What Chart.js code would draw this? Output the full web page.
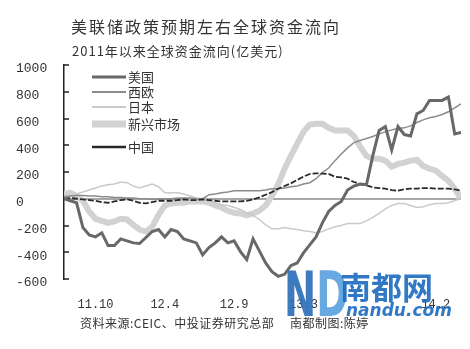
<!DOCTYPE html>
<html>
<head>
<meta charset="utf-8">
<script src="https://cdn.jsdelivr.net/npm/chart.js@4.4.1/dist/chart.umd.min.js"></script>
<style>
  body { margin: 0; background: #fff; }
  #wrap { position: relative; width: 470px; height: 349px; overflow: hidden; }
  #c { position: absolute; left: 0; top: 0; }
  .txt { position: absolute; color: #333; font-family: "Noto Sans CJK SC", sans-serif; white-space: nowrap; line-height: 1; }
</style>
</head>
<body>
<div id="wrap">
  <canvas id="c" width="470" height="349"></canvas>
  <div class="txt" style="left:71px;top:18px;font-size:16px;letter-spacing:2px;">美联储政策预期左右全球资金流向</div>
  <div class="txt" style="left:72px;top:44px;font-size:13px;letter-spacing:1px;">2011年以来全球资金流向(亿美元)</div>
  <div class="txt" style="left:80px;top:317px;font-size:12px;letter-spacing:0.5px;">资料来源:CEIC、中投证券研究总部</div>
  <div class="txt" style="left:290px;top:317px;font-size:12px;letter-spacing:0.5px;">南都制图:陈婷</div>
</div>
<script>
// half-month steps from Aug 2011 to early 2014
const xTickPos = [5, 16, 27, 38, 59];
const xTickLabels = ['11.10', '12.4', '12.9', '13.3', '14.2'];

const seriesNames = ['美国', '西欧', '日本', '新兴市场', '中国'];

const usa = [0, -15, -30, -215, -270, -285, -255, -350, -350, -300,
  -315, -330, -335, -290, -245, -230, -285, -230, -245, -300,
  -315, -330, -420, -365, -330, -285, -330, -315, -395, -455,
  -300, -390, -480, -545, -580, -565, -500, -480, -405, -345,
  -285, -180, -95, -50, -20, 65, 95, 110, 105, 320,
  510, 540, 365, 540, 480, 470, 635, 660, 735, 735,
  735, 760, 485, 495];

const westEurope = [15, 20, 25, 25, 20, 20, 15, 15, 10, 10,
  5, 5, 0, 0, -5, 0, 0, 0, 5, 5,
  5, 0, 0, 30, 35, 45, 50, 60, 60, 60,
  60, 60, 65, 75, 75, 80, 90, 95, 110, 120,
  150, 195, 230, 285, 335, 380, 420, 435, 450, 465,
  485, 500, 515, 525, 530, 545, 570, 590, 605, 615,
  630, 650, 680, 710];

const japan = [0, 15, 35, 50, 65, 80, 95, 105, 110, 125,
  120, 95, 80, 95, 110, 90, 45, 45, 45, 35,
  20, 5, 0, -15, -30, -45, -50, -65, -80, -105,
  -125, -155, -195, -225, -225, -215, -225, -230, -240, -245,
  -255, -245, -225, -210, -200, -185, -185, -185, -165, -140,
  -110, -75, -50, -35, -35, -50, -65, -60, -45, -35,
  -35, -30, -15, 5];

const emerging = [35, 45, 20, -15, -95, -150, -165, -180, -170, -150,
  -155, -195, -230, -245, -210, -120, -50, -35, -30, -30,
  -20, -20, -20, -30, -50, -65, -90, -105, -110, -125,
  -110, -90, -50, 20, 110, 225, 320, 410, 500, 555,
  560, 560, 530, 510, 510, 510, 470, 390, 320, 300,
  300, 285, 240, 260, 270, 285, 290, 245, 225, 210,
  170, 135, 75, 0];

const china = [0, 5, 0, -5, -10, -15, -25, -30, -20, -10,
  -5, -15, -30, -35, -25, -15, -15, -15, -10, -5,
  -10, -10, -5, -10, -15, -20, -20, -20, -20, -15,
  -5, 10, 30, 50, 75, 95, 115, 140, 165, 185,
  190, 188, 185, 165, 160, 150, 125, 110, 100, 85,
  80, 75, 65, 60, 70, 75, 75, 80, 80, 75,
  75, 75, 70, 60];

const toPoints = arr => arr.map((v, i) => ({ x: i, y: v }));

// legend drawn by hand, same spots as the original
const legendY = [77, 92, 107, 124, 147];
const legendPlugin = {
  id: 'handLegend',
  afterDraw(chart) {
    const ctx = chart.ctx;
    ctx.save();
    chart.data.datasets.forEach((ds, i) => {
      ctx.beginPath();
      ctx.strokeStyle = ds.borderColor;
      ctx.lineWidth = ds.legendWidth;
      ctx.moveTo(92, legendY[i]);
      ctx.lineTo(126, legendY[i]);
      ctx.stroke();
      ctx.fillStyle = '#333';
      ctx.font = '13px "Noto Sans CJK SC"';
      ctx.textBaseline = 'middle';
      ctx.fillText(ds.label, 128, legendY[i]);
    });
    ctx.restore();
  }
};

// watermark in the bottom right
const logoPlugin = {
  id: 'logo',
  afterDraw(chart) {
    const ctx = chart.ctx;
    ctx.save();
    ctx.globalAlpha = 0.92;
    ctx.font = 'bold 62px "DejaVu Sans"';
    ctx.textBaseline = 'alphabetic';
    ctx.save();
    ctx.translate(284, 316);
    ctx.scale(0.62, 1);
    ctx.fillStyle = '#2c6fb8';
    ctx.fillText('N', 0, 0);
    ctx.fillStyle = '#5aa2dd';
    ctx.fillText('D', 52, 0);
    ctx.restore();
    ctx.fillStyle = '#1f6cc0';
    ctx.font = 'bold 31px "Noto Sans CJK SC"';
    ctx.fillText('南都网', 340, 299);
    ctx.font = 'bold italic 17px "DejaVu Sans"';
    ctx.fillText('nandu.com', 346, 316);
    ctx.restore();
  }
};

const monoFont = '"Liberation Mono", "DejaVu Sans Mono", monospace';

new Chart(document.getElementById('c'), {
  type: 'line',
  data: {
    datasets: [
      { label: seriesNames[0], data: toPoints(usa), borderColor: '#686868', borderWidth: 3, legendWidth: 3, order: 0 },
      { label: seriesNames[1], data: toPoints(westEurope), borderColor: '#8c8c8c', borderWidth: 1.5, legendWidth: 2, order: 2 },
      { label: seriesNames[2], data: toPoints(japan), borderColor: '#cacaca', borderWidth: 1.5, legendWidth: 2, order: 3 },
      { label: seriesNames[3], data: toPoints(emerging), borderColor: '#d2d2d2', borderWidth: 6, legendWidth: 7, order: 4 },
      { label: seriesNames[4], data: toPoints(china), borderColor: '#2a2a2a', borderWidth: 1.8, borderDash: [6, 2], legendWidth: 2.5, order: 1 }
    ]
  },
  options: {
    responsive: false,
    animation: false,
    layout: { padding: { left: 16, right: 9, top: 65, bottom: 36 } },
    elements: { point: { radius: 0 }, line: { tension: 0 } },
    plugins: { legend: { display: false }, tooltip: { enabled: false } },
    scales: {
      x: {
        type: 'linear', min: 0, max: 63,
        afterFit: s => { s.height = 34; },
        afterBuildTicks: s => { s.ticks = xTickPos.map(v => ({ value: v })); },
        grid: { display: false },
        border: { display: false },
        ticks: {
          autoSkip: false, maxRotation: 0, padding: 11,
          color: '#333', font: { family: monoFont, size: 12 },
          callback: v => xTickLabels[xTickPos.indexOf(v)]
        }
      },
      y: {
        min: -600, max: 1000,
        afterFit: s => { s.width = 48; },
        border: { color: '#222', width: 1.5 },
        grid: {
          drawOnChartArea: true,
          tickLength: -5,
          lineWidth: 2,
          color: c => (c.tick && c.tick.value === 0 ? '#a8a8a8' : 'rgba(0,0,0,0)'),
          tickColor: '#222',
          tickWidth: 1.5
        },
        ticks: {
          stepSize: 200, crossAlign: 'far', labelOffset: 4,
          color: '#333', font: { family: monoFont, size: 13 },
          callback: v => String(v)
        }
      }
    }
  },
  plugins: [legendPlugin, logoPlugin]
});
</script>
</body>
</html>
